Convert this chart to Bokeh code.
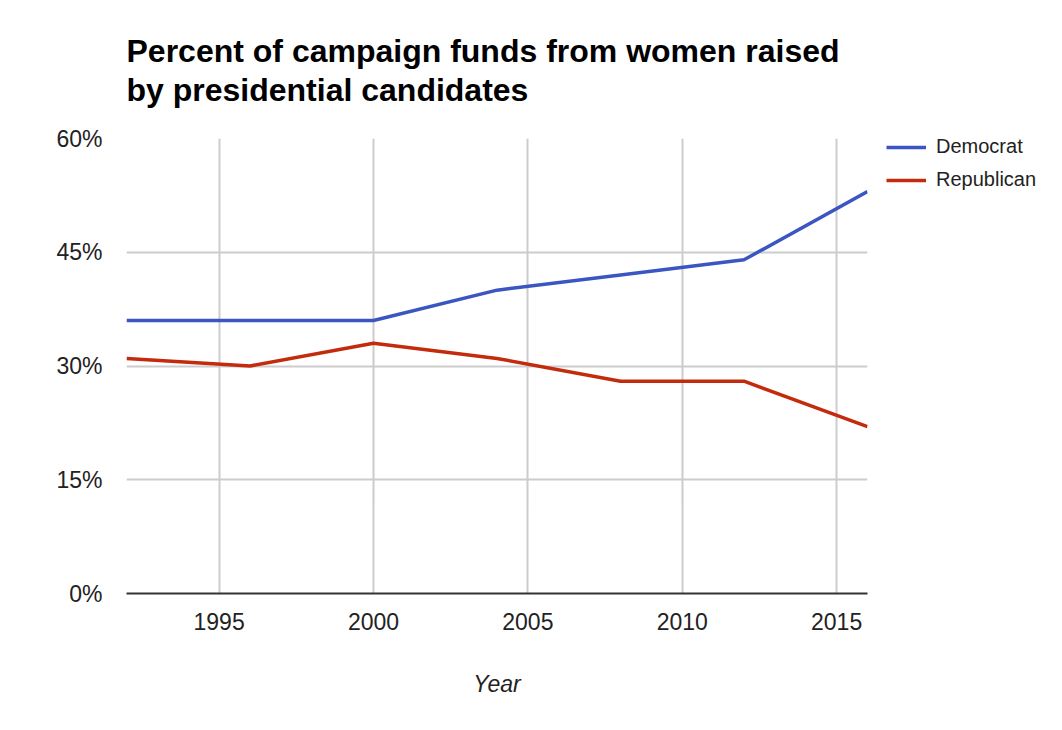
from bokeh.plotting import figure
from bokeh.models import Title, Legend, LegendItem, FixedTicker, Range1d, PrintfTickFormatter
from bokeh.embed import file_html
from bokeh.resources import INLINE

years = [1992, 1996, 2000, 2004, 2008, 2012, 2016]
democrat = [36, 36, 36, 40, 42, 44, 53]
republican = [31, 30, 33, 31, 28, 28, 22]
x_ticks = [1995, 2000, 2005, 2010, 2015]
y_ticks = [0, 15, 30, 45, 60]
title_text = "Percent of campaign funds from women raised\nby presidential candidates"

FONT = "Liberation Sans"

p = figure(frame_width=741, frame_height=455, output_backend="svg", toolbar_location=None,
           x_range=Range1d(1992, 2016), y_range=Range1d(0, 60),
           min_border_left=126, min_border_right=176, min_border_top=138, min_border_bottom=120)
p.title.visible = False
p.outline_line_color = None
p.background_fill_color = "white"
p.border_fill_color = "white"

t = Title(text=title_text, align="left", text_font=FONT, text_font_size="32px",
          text_font_style="bold", text_color="#000000", standoff=60, text_line_height=1.1)
p.add_layout(t, "above")

r_d = p.line(years, democrat, line_color="#3b55c3", line_width=3.5)
r_r = p.line(years, republican, line_color="#c42a0c", line_width=3.5)

p.xaxis.ticker = FixedTicker(ticks=x_ticks)
p.yaxis.ticker = FixedTicker(ticks=y_ticks)
p.yaxis.formatter = PrintfTickFormatter(format="%d%%")
for ax in (p.xaxis[0], p.yaxis[0]):
    ax.major_tick_line_color = None
    ax.minor_tick_line_color = None
    ax.major_label_text_font = FONT
    ax.major_label_text_font_size = "23px"
    ax.major_label_text_color = "#222222"
p.yaxis.axis_line_color = None
p.yaxis.major_label_standoff = 18
p.xaxis.axis_line_color = "#333333"
p.xaxis.axis_line_width = 2
p.xaxis.major_label_standoff = 13
p.xaxis.axis_label = "Year"
p.xaxis.axis_label_text_font = FONT
p.xaxis.axis_label_text_font_size = "23px"
p.xaxis.axis_label_text_font_style = "italic"
p.xaxis.axis_label_text_color = "#222222"
p.xaxis.axis_label_standoff = 38

p.xgrid.grid_line_color = "#cccccc"
p.xgrid.grid_line_width = 2
p.ygrid.grid_line_color = "#cccccc"
p.ygrid.grid_line_width = 2

legend = Legend(items=[LegendItem(label="Democrat", renderers=[r_d]),
                       LegendItem(label="Republican", renderers=[r_r])],
                location=(19, 402), label_text_font=FONT, label_text_font_size="20px",
                label_text_color="#222222", glyph_width=40, glyph_height=20, label_height=20,
                border_line_color=None, background_fill_alpha=0, spacing=10,
                padding=0, margin=0, label_standoff=10)
p.add_layout(legend, "right")

open("out.html", "w").write(file_html(p, INLINE))
